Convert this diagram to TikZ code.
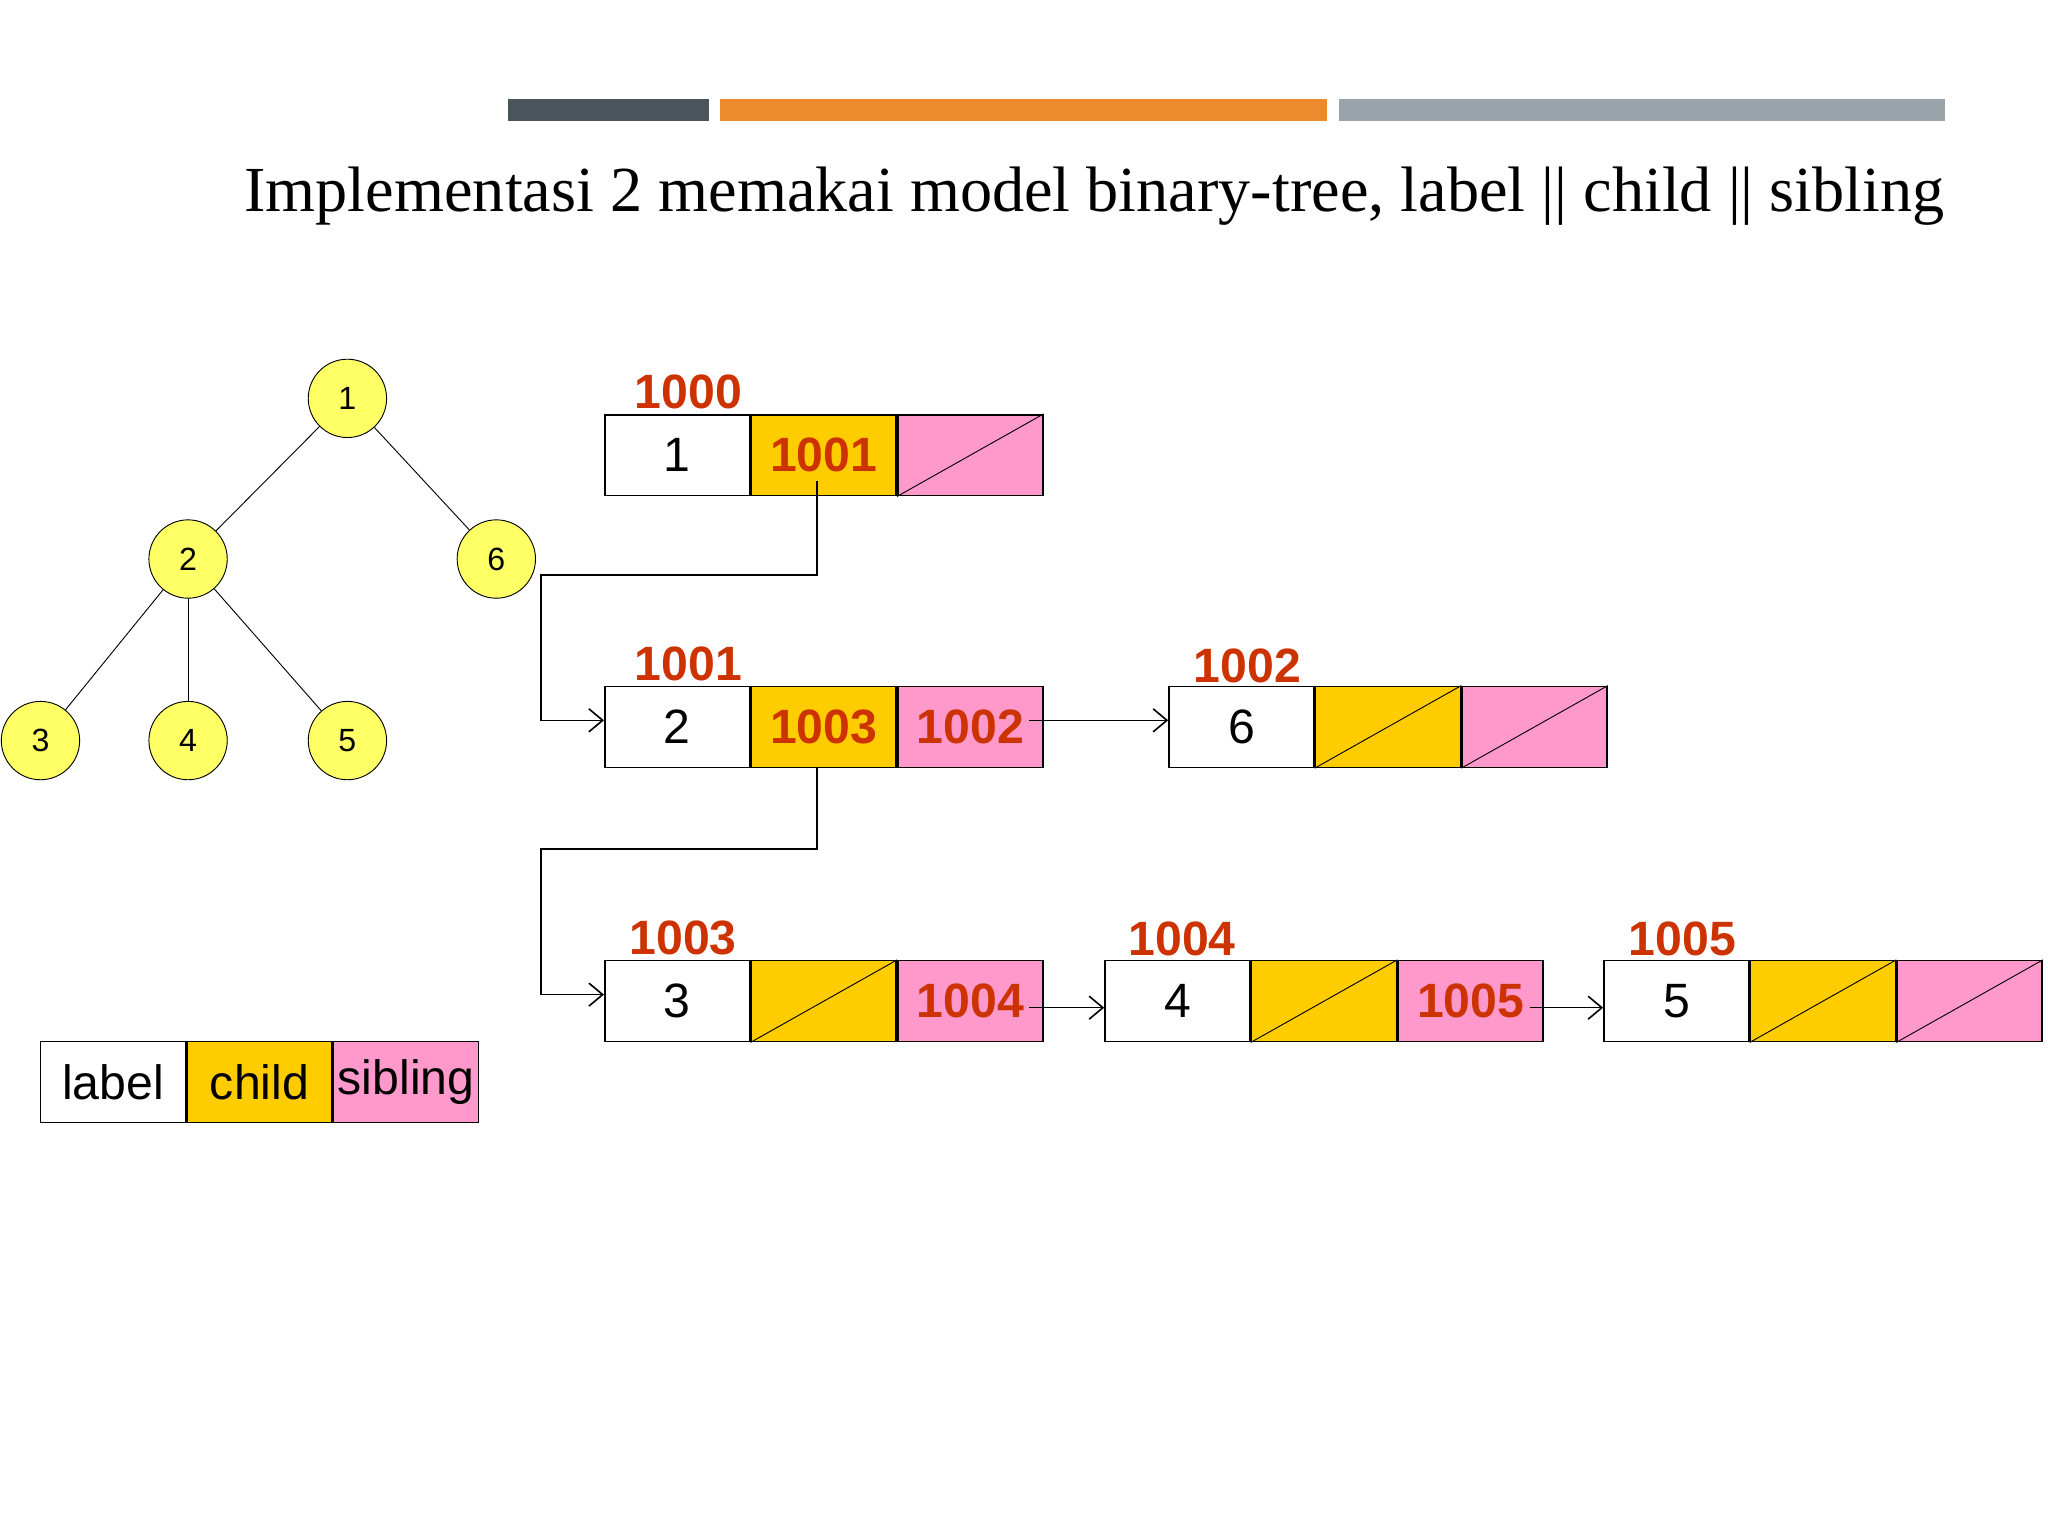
\documentclass[tikz,border=0pt]{standalone}
\usepackage{fontspec}
\setmainfont{Liberation Serif}
\setsansfont{Liberation Sans}
\usetikzlibrary{arrows.meta,calc}
\definecolor{addr}{HTML}{CC3300}
\definecolor{cchild}{HTML}{FFCC00}
\definecolor{csib}{HTML}{FF99CC}
\definecolor{tnode}{HTML}{FFFF66}
\definecolor{bar1}{HTML}{4A555B}
\definecolor{bar2}{HTML}{EE8A2E}
\definecolor{bar3}{HTML}{9AA3AA}
\tikzset{
 cell/.style={draw,line width=0.7pt,minimum width=2.22cm,minimum height=1.24cm,inner sep=0pt,font=\sffamily\fontsize{21}{21}\selectfont},
 ptr/.style={cell,text=addr,font=\sffamily\bfseries\fontsize{21}{21}\selectfont},
 addrlbl/.style={text=addr,font=\sffamily\bfseries\fontsize{21}{21}\selectfont},
 tn/.style={circle,draw,fill=tnode,minimum size=1.2cm,inner sep=0pt,font=\sffamily\fontsize{14}{14}\selectfont},
 conn/.style={-{Straight Barb[length=6pt,width=10pt]},line width=0.7pt},
}
\newcommand{\myrec}[6]{%
 \node[cell,fill=white] (#1-l) at (#2,#3) {#4};
 \node[ptr,fill=cchild,anchor=west] (#1-c) at (#1-l.east) {#5};
 \node[ptr,fill=csib,anchor=west] (#1-s) at (#1-c.east) {#6};
}
\newcommand{\nul}[1]{\draw (#1.south west) -- (#1.north east);}
\begin{document}
\begin{tikzpicture}[x=0.02cm,y=-0.02cm]
\useasboundingbox (0,0) rectangle (1568,1176);
\fill[bar1] (389,76) rectangle (543,93);
\fill[bar2] (551,76) rectangle (1016,93);
\fill[bar3] (1025,76) rectangle (1489,93);
\node[font=\fontsize{28}{32}\selectfont] (title) at (838,150) {Implementasi 2 memakai model binary-tree, label || child || sibling};
% tree
\node[tn] (t1) at (266,305) {1};
\node[tn] (t2) at (144,428) {2};
\node[tn] (t6) at (380,428) {6};
\node[tn] (t3) at (31,567) {3};
\node[tn] (t4) at (144,567) {4};
\node[tn] (t5) at (266,567) {5};
\draw (t1)--(t2); \draw (t1)--(t6);
\draw (t2)--(t3); \draw (t2)--(t4); \draw (t2)--(t5);
% records
\myrec{r1}{518.5}{348.5}{1}{1001}{} \nul{r1-s}
\myrec{r2}{518.5}{556.5}{2}{1003}{1002}
\myrec{r6}{950.5}{556.5}{6}{}{} \nul{r6-c} \nul{r6-s}
\myrec{r3}{518.5}{766.5}{3}{}{1004} \nul{r3-c}
\myrec{r4}{901.5}{766.5}{4}{}{1005} \nul{r4-c}
\myrec{r5}{1283.5}{766.5}{5}{}{} \nul{r5-c} \nul{r5-s}
\node[cell,fill=white] (lg-l) at (86.5,828.5) {label};
\node[cell,fill=cchild,anchor=west] (lg-c) at (lg-l.east) {child};
\node[cell,fill=csib,anchor=west] (lg-s) at (lg-c.east) {sibling};
% address labels
\node[addrlbl] (a0) at (527,300) {1000};
\node[addrlbl] (a1) at (527,508) {1001};
\node[addrlbl] (a2) at (955,510) {1002};
\node[addrlbl] (a3) at (523,718) {1003};
\node[addrlbl] (a4) at (905,719) {1004};
\node[addrlbl] (a5) at (1288,719) {1005};
% connectors
\coordinate (k1) at (414,440);
\coordinate (k2) at (414,650);
\draw[conn] ($(r1-c.center)+(-5,20)$) |- (k1) |- ($(r2-l.west)+(0,-5)$);
\draw[conn] ($(r2-c.south)+(-5,0)$) |- (k2) |- ($(r3-l.west)+(0,-5)$);
\draw[conn] ($(r2-s.east)+(-11,-5)$) -- ($(r6-l.west)+(0,-5)$);
\draw[conn] ($(r3-s.east)+(-11,5)$) -- ($(r4-l.west)+(0,5)$);
\draw[conn] ($(r4-s.east)+(-11,5)$) -- ($(r5-l.west)+(0,5)$);
\end{tikzpicture}
\end{document}
